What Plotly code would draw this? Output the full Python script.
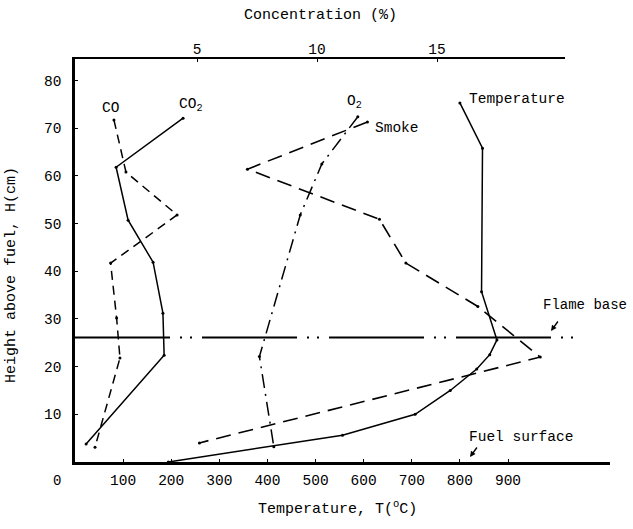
import plotly.graph_objects as go

# ---------------- data ----------------
# Temperature profile (bottom axis, deg C) vs height (cm)
temp_T = [800, 847, 845, 877, 862, 835, 780, 707, 556, 194]
temp_H = [75.3, 65.8, 35.7, 25.6, 22.5, 19.5, 15.0, 10.0, 5.6, 0.0]

# Concentration profiles (top axis, %) vs height (cm)
co_C = [1.54, 2.04, 4.17, 1.40, 1.65, 1.79, 0.75]
co_H = [71.7, 60.8, 51.8, 41.7, 30.2, 21.8, 3.1]

co2_C = [4.42, 1.63, 2.13, 3.17, 3.58, 3.63, 0.38]
co2_H = [72.1, 61.8, 50.7, 41.9, 31.2, 22.4, 3.8]

o2_C = [11.7, 10.2, 9.3, 7.6, 8.2]
o2_H = [72.4, 62.5, 51.8, 22.1, 3.2]

smoke_C = [12.1, 7.1, 12.6, 13.7, 16.7, 19.3, 5.1]
smoke_H = [71.3, 61.4, 50.9, 41.7, 32.6, 22.0, 4.0]

flame_base_H = 26.1

temp_ticks = [100, 200, 300, 400, 500, 600, 700, 800, 900]
conc_ticks = [5, 10, 15]
height_ticks = [10, 20, 30, 40, 50, 60, 70, 80]

# ---------------- layout geometry ----------------
W, H = 633, 529
L, R, T, B = 75, 23, 59, 67
PW, PH = W - L - R, H - T - B


def px(x):
    return (x - L) / PW


def py(y):
    return (H - B - y) / PH


FONT = "Liberation Mono"
fig = go.Figure()

line_kw = dict(color="black", width=1.5)
mk = dict(size=3, color="black")

fig.add_trace(go.Scatter(x=temp_T, y=temp_H, mode="lines+markers",
                         line=line_kw, marker=mk, xaxis="x", yaxis="y"))
fig.add_trace(go.Scatter(x=co_C, y=co_H, mode="lines+markers",
                         line=dict(color="black", width=1.5, dash="9px,6px"),
                         marker=mk, xaxis="x2", yaxis="y"))
fig.add_trace(go.Scatter(x=co2_C, y=co2_H, mode="lines+markers",
                         line=line_kw, marker=mk, xaxis="x2", yaxis="y"))
fig.add_trace(go.Scatter(x=o2_C, y=o2_H, mode="lines+markers",
                         line=dict(color="black", width=1.5, dash="14px,6px,2px,6px"),
                         marker=mk, xaxis="x2", yaxis="y"))
fig.add_trace(go.Scatter(x=smoke_C, y=smoke_H, mode="lines+markers",
                         line=dict(color="black", width=1.6, dash="15px,8px"),
                         marker=mk, xaxis="x2", yaxis="y"))

# flame base line
fig.add_shape(type="line", xref="paper", yref="y", x0=0, x1=px(577),
              y0=flame_base_H, y1=flame_base_H,
              line=dict(color="black", width=2, dash="95px,10px,2px,8px,2px,10px"))

ann = []


def text(s, x, y, xanchor="left", yanchor="middle", size=14.5, angle=0):
    ann.append(dict(text=s, x=px(x), y=py(y), xref="paper", yref="paper",
                    xanchor=xanchor, yanchor=yanchor, showarrow=False,
                    textangle=angle, font=dict(family=FONT, size=size, color="black")))


text("Concentration (%)", 320, 15, xanchor="center", size=15)
text("Temperature, T(<sup>o</sup>C)", 337, 508, xanchor="center", size=15)
text("Height above fuel, H(cm)", 11, 275, xanchor="center", angle=-90, size=15)
text("0", 57, 481, xanchor="center", size=14)
text("CO", 110, 108, xanchor="center")
text("CO<sub>2</sub>", 177, 105)
text("O<sub>2</sub>", 345, 102)
text("Smoke", 373, 128)
text("Temperature", 467, 99)
text("Flame base", 541, 305, size=14)
text("Fuel surface", 467, 437)

# small arrows under labels
for hx, hy in [(551, 331), (470, 457)]:
    ann.append(dict(text="", x=px(hx), y=py(hy), xref="paper", yref="paper",
                    showarrow=True, ax=8, ay=-11, arrowhead=2, arrowsize=0.8,
                    arrowwidth=1.4, arrowcolor="black"))

axis_font = dict(family=FONT, size=14.5, color="black")

fig.update_layout(
    width=W, height=H,
    margin=dict(l=L, r=R, t=T, b=B, autoexpand=False),
    paper_bgcolor="white", plot_bgcolor="rgba(0,0,0,0)",
    showlegend=False,
    font=dict(family=FONT, size=15, color="black"),
    annotations=ann,
    xaxis=dict(range=[0, 1112], domain=[0, 1], anchor="y", automargin=False,
               tickvals=temp_ticks, ticks="inside", ticklen=3, tickcolor="black",
               showline=True, linecolor="black", linewidth=2.5,
               showgrid=False, zeroline=False, tickfont=axis_font,
               ticklabelstandoff=3),
    xaxis2=dict(range=[-0.083, 20.33], domain=[0, px(565)], anchor="y", side="top",
                automargin=False,
                tickvals=conc_ticks, ticks="inside", ticklen=3, tickcolor="black",
                showline=True, linecolor="black", linewidth=2,
                showgrid=False, zeroline=False, tickfont=axis_font,
                ticklabelstandoff=-3),
    yaxis=dict(range=[0, 84.5], domain=[0, 1], anchor="x", automargin=False,
               tickvals=height_ticks, ticks="inside", ticklen=3, tickcolor="black",
               showline=True, linecolor="black", linewidth=2.5,
               showgrid=False, zeroline=False, tickfont=axis_font,
               ticklabelstandoff=8),
)

fig.write_html("out.html", config={"displayModeBar": False},
               post_script="document.body.style.margin='0';document.body.style.overflow='hidden';")
